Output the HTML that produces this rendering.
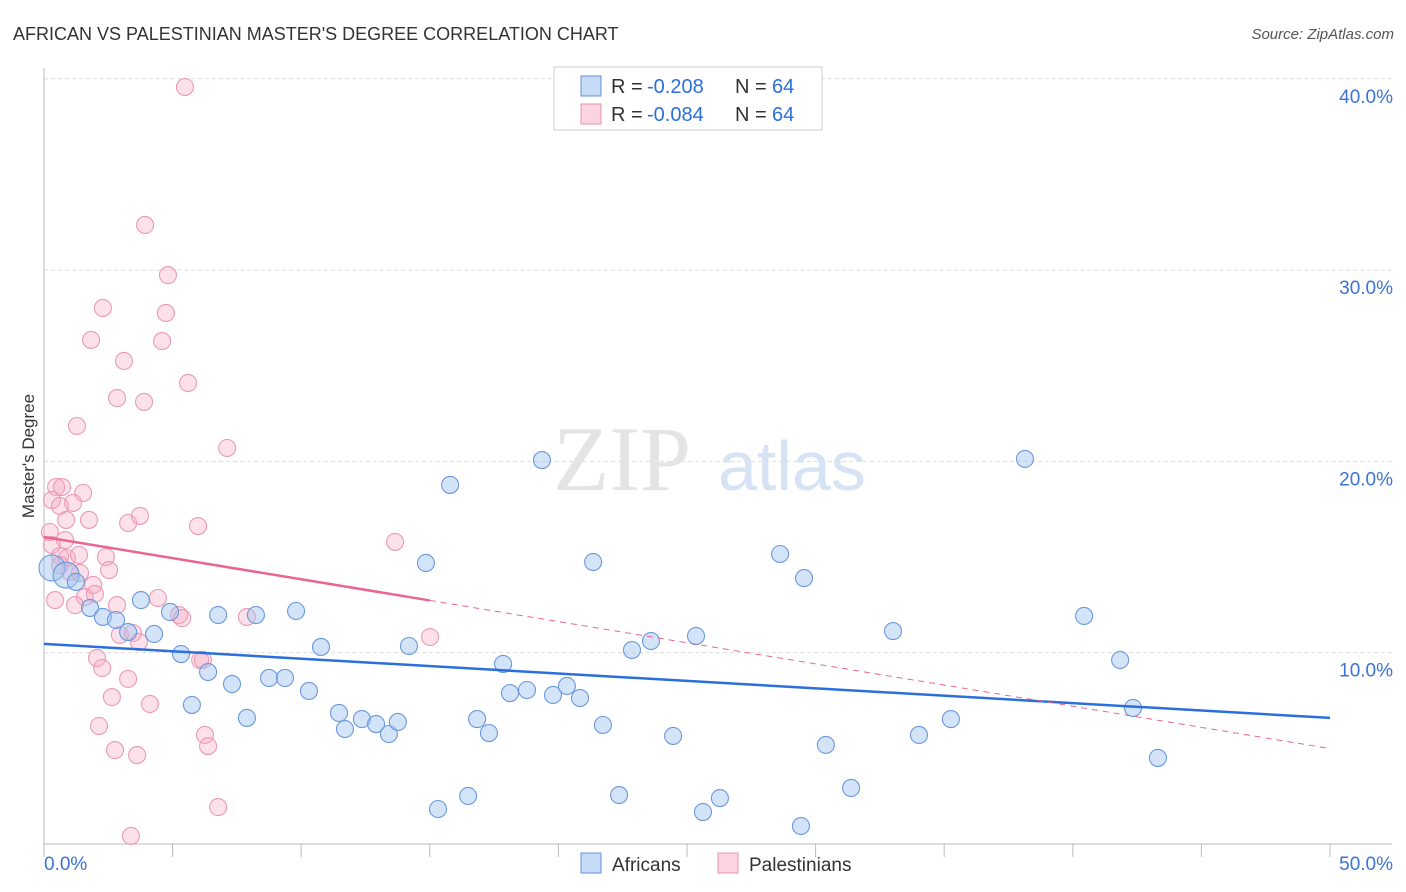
<!DOCTYPE html>
<html><head><meta charset="utf-8"><style>
body{margin:0;background:#fff;font-family:"Liberation Sans",sans-serif}
svg{display:block}
</style></head><body>
<svg id="c" width="1406" height="892"></svg>
<script>
const yTicks=[10,20,30,40];
const yTickLabels=["10.0%","20.0%","30.0%","40.0%"];
const xLabels=["0.0%","50.0%"];
const africansPx=[[52,568],[66,575],[76,582],[90,608],[103,617],[116,620],[128,632],[141,600],[154,634],[170,612],[181,654],[192,705],[208,672],[218,615],[232,684],[247,718],[256,615],[269,678],[285,678],[296,611],[309,691],[321,647],[339,713],[345,729],[362,719],[376,724],[389,734],[398,722],[409,646],[426,563],[438,809],[450,485],[468,796],[477,719],[489,733],[503,664],[510,693],[527,690],[542,460],[553,695],[567,686],[580,698],[593,562],[603,725],[619,795],[632,650],[651,641],[673,736],[696,636],[703,812],[720,798],[780,554],[801,826],[804,578],[826,745],[851,788],[893,631],[919,735],[951,719],[1025,459],[1084,616],[1120,660],[1133,708],[1158,758]];
const palPx=[[185,87],[145,225],[168,275],[103,308],[166,313],[91,340],[162,341],[124,361],[188,383],[117,398],[144,402],[77,426],[227,448],[56,487],[83,493],[62,487],[52,500],[60,506],[73,503],[66,520],[89,520],[128,523],[140,516],[198,526],[395,542],[50,532],[52,545],[60,556],[67,558],[79,555],[106,557],[109,570],[70,572],[93,585],[85,597],[95,594],[75,605],[117,605],[158,598],[179,615],[182,618],[247,617],[120,635],[133,633],[139,642],[430,637],[97,658],[102,668],[200,660],[203,660],[128,679],[112,697],[150,704],[99,726],[205,735],[208,746],[115,750],[137,755],[218,807],[131,836],[80,573],[60,565],[55,600],[65,540]];
const africansX=africansPx.map(p=>+((p[0]-44)/1286*50).toFixed(2));
const africansY=africansPx.map(p=>+((844-p[1])/19.13).toFixed(2));
const palX=palPx.map(p=>+((p[0]-44)/1286*50).toFixed(2));
const palY=palPx.map(p=>+((844-p[1])/19.13).toFixed(2));
const blueTrend=[10.46,6.59];
const pinkTrend=[16.05,4.99];

const X=v=>44+v/50*1286, Y=v=>844-v*19.13;
const s=document.getElementById('c');const NS='http://www.w3.org/2000/svg';
function el(t,a,txt){const e=document.createElementNS(NS,t);for(const k in a)e.setAttribute(k,a[k]);if(txt!=null)e.textContent=txt;s.appendChild(e);return e;}
yTicks.forEach((t,i)=>{
 const g=el('line',{x1:44,x2:1392,y1:Y(t),y2:Y(t),stroke:'#dcdcdc','stroke-dasharray':'4,3'});
 
 
 const l=el('text',{x:1393,y:Y(t)+24,'text-anchor':'end',fill:'#3b73d6','font-size':19},yTickLabels[i]);
 
 
});
const ax=el('line',{x1:44,x2:44,y1:68,y2:844,stroke:'#bbb'});

const bx=el('line',{x1:44,x2:1392,y1:844,y2:844,stroke:'#bbb'});

for(let i=0;i<=10;i++){const t=el('line',{x1:X(i*5),x2:X(i*5),y1:844,y2:857,stroke:'#bbb'});}
let t1=el('text',{x:44,y:870,fill:'#3b73d6','font-size':19},xLabels[0]);
let t2=el('text',{x:1393,y:870,'text-anchor':'end',fill:'#3b73d6','font-size':19},xLabels[1]);
let wm=el('text',{x:553,y:490,fill:'#e4e4e4','font-size':92,'font-family':'Liberation Serif, serif'},'ZIP');
let wm2=el('text',{x:718,y:490,fill:'#d6e3f5','font-size':70},'atlas');
palX.forEach((x,i)=>{const c=el('circle',{cx:X(x),cy:Y(palY[i]),r:8.5,fill:'rgba(246,170,196,0.35)',stroke:'#eb9ab3','stroke-width':1.1});});
africansX.forEach((x,i)=>{const big=i<2;const c=el('circle',{cx:X(x),cy:Y(africansY[i]),r:big?13:8.5,fill:'rgba(160,196,240,0.45)',stroke:'#6a98dd','stroke-width':1.1});});
let bl=el('line',{x1:X(0),y1:Y(blueTrend[0]),x2:X(50),y2:Y(blueTrend[1]),stroke:'#2a6fdb','stroke-width':2.5});
const pk=x=>pinkTrend[0]+(pinkTrend[1]-pinkTrend[0])*x/50;
let pl=el('line',{x1:X(0),y1:Y(pk(0)),x2:X(15),y2:Y(pk(15)),stroke:'#e8668f','stroke-width':2.5});
let pd=el('line',{x1:X(15),y1:Y(pk(15)),x2:X(50),y2:Y(pk(50)),stroke:'#e8668f','stroke-width':1,'stroke-dasharray':'6,5'});
let tt=el('text',{x:13,y:40,fill:'#333','font-size':18},"AFRICAN VS PALESTINIAN MASTER'S DEGREE CORRELATION CHART");
let src=el('text',{x:1394,y:39,'text-anchor':'end',fill:'#555','font-size':15,'font-style':'italic'},'Source: ZipAtlas.com');
let yt=el('text',{x:34,y:456,fill:'#333','font-size':17,'text-anchor':'middle',transform:'rotate(-90 34 456)'},"Master's Degree");
let lb=el('rect',{x:554,y:67,width:268,height:63,fill:'#fff',stroke:'#ccc'});
[['rgba(160,196,240,0.6)','#5d90dc','-0.208',86],['rgba(246,170,196,0.5)','#e991ad','-0.084',114]].forEach(r=>{
 const sw=el('rect',{x:581,y:r[3]-10,width:20,height:20,fill:r[0],stroke:r[1]});
 const a=el('text',{x:611,y:r[3]+7,'font-size':20,fill:'#333'},'R =');
 const b=el('text',{x:647,y:r[3]+7,'font-size':20,fill:'#2a6fdb'},r[2]);
 const c=el('text',{x:735,y:r[3]+7,'font-size':20,fill:'#333'},'N =');
 const d=el('text',{x:772,y:r[3]+7,'font-size':20,fill:'#2a6fdb'},'64');
});
[['Africans',581,'rgba(160,196,240,0.6)','#5d90dc'],['Palestinians',718,'rgba(246,170,196,0.5)','#e991ad']].forEach(r=>{
 const sw=el('rect',{x:r[1],y:853,width:20,height:20,fill:r[2],stroke:r[3]});
 const tx=el('text',{x:r[1]+31,y:871,'font-size':19,fill:'#333'},r[0]);
});
</script>
</body></html>
